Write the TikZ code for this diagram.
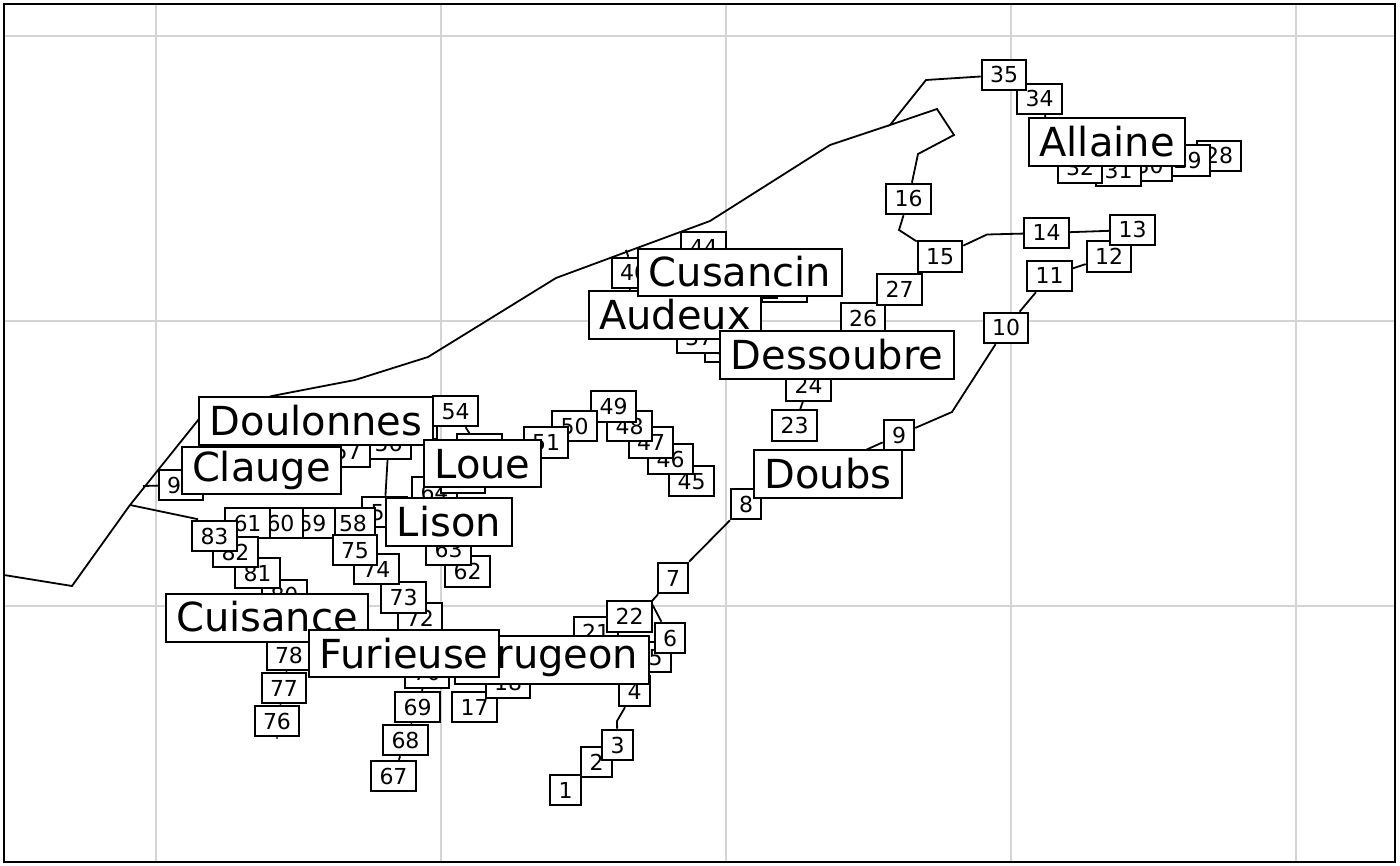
\documentclass[tikz,border=0pt]{standalone}
\usepackage{fontspec}
\setmainfont{DejaVu Sans}
\usetikzlibrary{backgrounds}

\tikzset{boxBase/.style = {draw = black, line width = 2pt, rectangle, fill = white, inner xsep = 0pt, inner ysep = 0pt, text depth = 0pt},
         numBox/.style = {boxBase, minimum width = 44.5pt, minimum height = 30.5pt, text height = 16pt, font = \fontsize{22}{26}\selectfont},
         digitBox/.style = {numBox, minimum width = 30.5pt},
         riverBox/.style = {boxBase, inner xsep = 10.5pt, minimum height = 47.5pt, text height = 29pt, font = \fontsize{40}{47}\selectfont},
         gridLine/.style = {draw = black!17, line width = 2pt},
         riverLine/.style = {draw = black, line width = 1.8pt}}

\begin{document}
\begin{tikzpicture}[x = 1pt, y = -1pt]
            \useasboundingbox (0,0) rectangle (1400,866);

            \coordinate (border0)  at (4,575);
            \coordinate (border1)  at (72,586);
            \coordinate (border2)  at (130,505);
            \coordinate (border3)  at (199,419);
            \coordinate (border4)  at (272,396);
            \coordinate (border5)  at (355,380);
            \coordinate (border6)  at (428,357);
            \coordinate (border7)  at (556,278);
            \coordinate (border8)  at (710,221);
            \coordinate (border9)  at (830,145);
            \coordinate (border10) at (890,125);
            \coordinate (bend3)    at (617,721);
            \coordinate (bend6)    at (651,602);
            \coordinate (bend10)   at (952,412);
            \coordinate (bend14)   at (987,234.5);
            \coordinate (bend15)   at (899,230);
            \coordinate (bend16a)  at (918,154);
            \coordinate (bend16b)  at (954,135);
            \coordinate (bend16c)  at (937,109);
            \coordinate (bend35)   at (926,80);
            \coordinate (bend34)   at (1048,125);
            \coordinate (bend40a)  at (626,250);
            \coordinate (bend40b)  at (624,315);
            \coordinate (bend58)   at (400,526.5);
            \coordinate (bend76)   at (277,738.5);
            \coordinate (bend83)   at (197,519);
            \coordinate (bend90)   at (143,486);

            \node [digitBox] at (565.5,790)   (n1) {1};
            \node [digitBox] at (596.5,762)   (n2) {2};
            \node [digitBox] at (617.5,745)   (n3) {3};
            \node [digitBox] at (634.5,691)   (n4) {4};
            \node [digitBox] at (655.5,657)   (n5) {5};
            \node [digitBox] at (670,638)     (n6) {6};
            \node [digitBox] at (673,578)     (n7) {7};
            \node [digitBox] at (746,504)     (n8) {8};
            \node [digitBox] at (899,435)     (n9) {9};
            \node [numBox]   at (1006,328)   (n10) {10};
            \node [numBox]   at (1049.5,276) (n11) {11};
            \node [numBox]   at (1109,256.5) (n12) {12};
            \node [numBox]   at (1132.5,230) (n13) {13};
            \node [numBox]   at (1046.5,233) (n14) {14};
            \node [numBox]   at (940,256.5)  (n15) {15};
            \node [numBox]   at (908.5,199)  (n16) {16};
            \node [numBox]   at (474.5,707)  (n17) {17};
            \node [numBox]   at (508,682.5)  (n18) {18};
            \node [numBox]   at (596,632.5)  (n21) {21};
            \node [numBox]   at (629.5,616.5) (n22) {22};
            \node [numBox]   at (794.5,425.5) (n23) {23};
            \node [numBox]   at (808.5,385.5) (n24) {24};
            \node [numBox]   at (863,318.5)  (n26) {26};
            \node [numBox]   at (899.5,289.5) (n27) {27};
            \node [numBox]   at (1219,156)   (n28) {28};
            \node [numBox]   at (1187.5,160.5) (n29) {29};
            \node [numBox]   at (1149.5,165.5) (n30) {30};
            \node [numBox]   at (1118.5,170.5) (n31) {31};
            \node [numBox]   at (1080,168)   (n32) {32};
            \node [numBox]   at (1039.5,99)  (n34) {34};
            \node [numBox]   at (1004,75)    (n35) {35};
            \node [numBox]   at (727.5,346.5) (n36) {36};
            \node [numBox]   at (699,338)    (n37) {37};
            \node [numBox]   at (784.5,286.5) (hiddenA) {};
            \node [numBox]   at (754.5,282.5) (hiddenB) {};
            \node [numBox]   at (634,273)    (n40) {40};
            \node [numBox]   at (703.5,247.5) (n44) {44};
            \node [numBox]   at (691.5,481)  (n45) {45};
            \node [numBox]   at (670.5,459)  (n46) {46};
            \node [numBox]   at (651,442.5)  (n47) {47};
            \node [numBox]   at (629.5,426)  (n48) {48};
            \node [numBox]   at (613.5,406.5) (n49) {49};
            \node [numBox]   at (574.5,426)  (n50) {50};
            \node [numBox]   at (546,442.5)  (n51) {51};
            \node [numBox]   at (479.5,449.5) (n52) {};
            \node [numBox]   at (415,424)    (n53) {};
            \node [numBox]   at (455.5,411)  (n54) {54};
            \node [numBox]   at (384.5,512)  (n55) {55};
            \node [numBox]   at (388.5,443.5) (n56) {56};
            \node [numBox]   at (347.5,451.5) (n57) {57};
            \node [numBox]   at (353,523)    (n58) {58};
            \node [numBox]   at (312.5,523)  (n59) {59};
            \node [numBox]   at (280.5,523)  (n60) {60};
            \node [numBox]   at (247.5,523)  (n61) {61};
            \node [numBox]   at (467.5,571.5) (n62) {62};
            \node [numBox]   at (448.5,549.5) (n63) {63};
            \node [numBox]   at (434.5,492.5) (n64) {64};
            \node [numBox]   at (463,477.5)  (n65) {};
            \node [numBox]   at (393.5,776)  (n67) {67};
            \node [numBox]   at (405.5,740)  (n68) {68};
            \node [numBox]   at (417.5,707)  (n69) {69};
            \node [numBox]   at (427,672.5)  (n70) {70};
            \node [numBox]   at (420,618.5)  (n72) {72};
            \node [numBox]   at (403.5,597.5) (n73) {73};
            \node [numBox]   at (376.5,569)  (n74) {74};
            \node [numBox]   at (355,550)    (n75) {75};
            \node [numBox]   at (277,721)    (n76) {76};
            \node [numBox]   at (284,688)    (n77) {77};
            \node [numBox]   at (289,655)    (n78) {78};
            \node [numBox]   at (284.5,595.5) (n80) {80};
            \node [numBox]   at (257.5,573)  (n81) {81};
            \node [numBox]   at (235.5,552)  (n82) {82};
            \node [numBox]   at (214.5,536)  (n83) {83};
            \node [numBox]   at (181,485)    (n90) {90};

            \node [riverBox] at (1107,142)   (allaine)   {Allaine};
            \node [riverBox] at (828,474)    (doubs)     {Doubs};
            \node [riverBox] at (675,315)    (audeux)    {Audeux};
            \node [riverBox] at (740,272.5)  (cusancin)  {Cusancin};
            \node [riverBox] at (837,355)    (dessoubre) {Dessoubre};
            \node [riverBox] at (316,421)    (doulonnes) {Doulonnes};
            \node [riverBox, text depth = 8pt] at (261.5,470.5) (clauge) {Clauge};
            \node [riverBox] at (482.5,463.5) (loue)     {Loue};
            \node [riverBox] at (449,522)    (lison)     {Lison};
            \node [riverBox, text depth = 3pt] at (267,618) (cuisance) {Cuisance};
            \node [riverBox, text depth = 12pt] at (552,660) (drugeon) {Drugeon};
            \node [riverBox] at (404,653.5)  (furieuse)  {Furieuse};

            \begin{pgfonlayer}{background}
                \foreach \gridX in {156,441,726,1011,1296}
                    \draw [gridLine] (\gridX,4) -- (\gridX,862);
                \foreach \gridY in {36,321,606}
                    \draw [gridLine] (4,\gridY) -- (1395,\gridY);

                \draw [riverLine] (border0) -- (border1) -- (border2) -- (border3) -- (border4) -- (border5) -- (border6) -- (border7) -- (border8) -- (border9) -- (border10);
                \draw [riverLine] (n1) -- (n2) -- (n3) -- (bend3) -- (n4) -- (n5) -- (n6) -- (bend6) -- (n7) -- (n8) -- (n9) -- (bend10) -- (n10) -- (n11) -- (n12) -- (n13) -- (n14) -- (bend14) -- (n15) -- (bend15) -- (n16) -- (bend16a) -- (bend16b) -- (bend16c) -- (border10) -- (bend35) -- (n35) -- (n34) -- (bend34) -- (n32) -- (n31) -- (n30) -- (n29) -- (n28);
                \draw [riverLine] (n17) -- (n18) -- (n21) -- (n22) -- (bend6);
                \draw [riverLine] (n15) -- (n27) -- (n26) -- (n24) -- (n23);
                \draw [riverLine] (bend40a) -- (n40) -- (bend40b);
                \draw [riverLine] (n45) -- (n46) -- (n47) -- (n48) -- (n49) -- (n50) -- (n51) -- (n52) -- (n54);
                \draw [riverLine] (n57) -- (n56) -- (n55);
                \draw [riverLine] (n58) -- (bend58);
                \draw [riverLine] (n67) -- (n68) -- (n69) -- (n70) -- (n72) -- (n73) -- (n74) -- (n75);
                \draw [riverLine] (bend76) -- (n76) -- (n77) -- (n78) -- (n80) -- (n81) -- (n82) -- (n83) -- (bend83) -- (border2);
                \draw [riverLine] (bend90) -- (n90);
            \end{pgfonlayer}

            \draw [draw = black, line width = 2pt] (4,4) rectangle (1395,862);
\end{tikzpicture}
\end{document}
